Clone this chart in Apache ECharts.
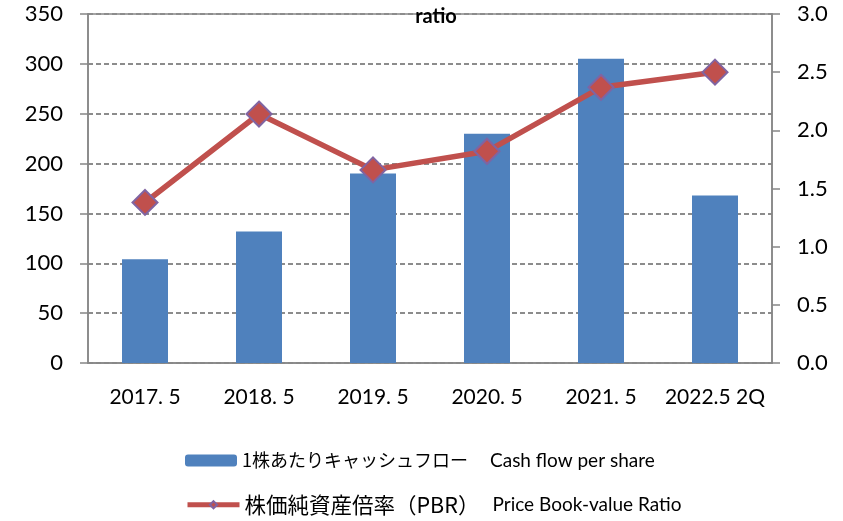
<!DOCTYPE html>
<html>
<head>
<meta charset="utf-8">
<script src="https://cdn.jsdelivr.net/npm/echarts@6/dist/echarts.min.js"></script>
<style>
  html, body { margin: 0; padding: 0; background: #fff; }
  #chart { width: 843px; height: 521px; }
</style>
</head>
<body>
<div id="chart"></div>
<script>
const categories = ["2017. 5", "2018. 5", "2019. 5", "2020. 5", "2021. 5", "2022.5 2Q"];
const cashFlow = [104, 132, 190, 230, 305, 168];
const pbr = [1.38, 2.14, 1.66, 1.82, 2.37, 2.50];

const barJp = "1株あたりキャッシュフロー";
const barEn = "Cash flow per share";
const lineJp = "株価純資産倍率（PBR）";
const lineEn = "Price Book-value Ratio";
const barName = barJp + " " + barEn;
const lineName = lineJp + " " + lineEn;

const numFont = "Lato, 'Noto Sans', sans-serif";
const jpFont = "'Noto Sans CJK JP', 'Noto Sans', sans-serif";
const gridGray = "#868686";

const chart = echarts.init(document.getElementById("chart"));

function legendBox(name, jp, en, top, jpSize, iconH) {
  return {
    data: [name],
    left: 185,
    top: top,
    padding: 0,
    itemWidth: 52,
    itemHeight: iconH,
    itemGap: 0,
    formatter: () => "{jp|" + jp + "}{en|" + en + "}",
    textStyle: {
      color: "#000",
      rich: {
        jp: { fontFamily: jpFont, fontSize: jpSize, width: 248, lineHeight: 24 },
        en: { fontFamily: numFont, fontSize: 19, lineHeight: 24 },
      },
    },
  };
}

chart.setOption({
  animation: false,
  title: {
    text: "ratio",
    left: 431,
    top: 2,
    textAlign: "center",
    textStyle: { fontFamily: numFont, fontSize: 20, fontWeight: "bold", color: "#000" },
  },
  grid: {
    left: 88, right: 71, top: 14, bottom: 158,
    show: true, borderColor: gridGray, borderWidth: 1.5,
  },
  legend: [
    legendBox(barName, barJp, barEn, 451, 18, 12),
    Object.assign(legendBox(lineName, lineJp, lineEn, 494, 21.5, 9), {
      lineStyle: { width: 5 },
    }),
  ],
  xAxis: {
    type: "category",
    data: categories,
    axisLine: { lineStyle: { color: gridGray, width: 1.5 } },
    axisTick: { length: 8, lineStyle: { color: gridGray, width: 1.5 } },
    axisLabel: { fontFamily: numFont, fontSize: 21, color: "#000", margin: 24, interval: 0 },
  },
  yAxis: [
    {
      type: "value",
      min: 0,
      max: 350,
      interval: 50,
      axisLine: { show: true, lineStyle: { color: gridGray, width: 1.5 } },
      axisTick: { show: true, length: 8, lineStyle: { color: gridGray, width: 1.5 } },
      axisLabel: { fontFamily: numFont, fontSize: 22, color: "#000", margin: 25 },
      splitLine: { lineStyle: { color: "#8c8c8c", width: 2, type: [5, 3] } },
    },
    {
      type: "value",
      min: 0,
      max: 3,
      interval: 0.5,
      axisLine: { show: true, lineStyle: { color: gridGray, width: 1.5 } },
      axisTick: { show: true, length: 8, lineStyle: { color: gridGray, width: 1.5 } },
      axisLabel: {
        fontFamily: numFont, fontSize: 22, color: "#000", margin: 25,
        formatter: (v) => v.toFixed(1),
      },
      splitLine: { show: false },
    },
  ],
  series: [
    {
      name: barName,
      type: "bar",
      data: cashFlow,
      barWidth: 46,
      itemStyle: { color: "#4F81BD" },
    },
    {
      name: lineName,
      type: "line",
      yAxisIndex: 1,
      data: pbr,
      symbol: "diamond",
      symbolSize: 25,
      lineStyle: { color: "#C0504D", width: 5.5 },
      itemStyle: { color: "#C0504D", borderColor: "#8064A2", borderWidth: 2 },
    },
  ],
});
</script>
</body>
</html>
